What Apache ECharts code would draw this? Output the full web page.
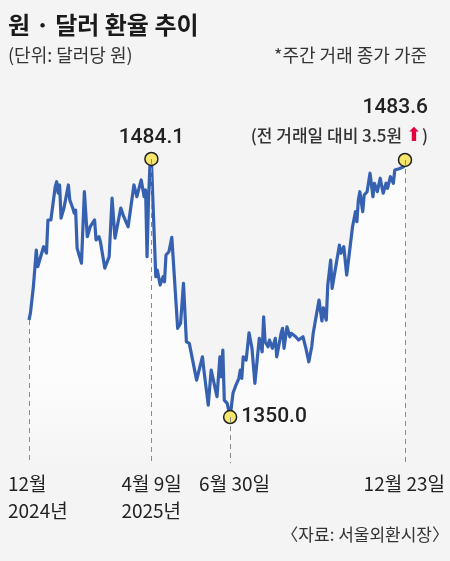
<!DOCTYPE html>
<html>
<head>
<meta charset="utf-8">
<script src="https://cdn.jsdelivr.net/npm/echarts@6/dist/echarts.min.js"></script>
<style>
  html, body { margin: 0; padding: 0; background: #f4f4f4; }
  #chart { width: 450px; height: 561px; }
</style>
</head>
<body>
<div id="chart"></div>
<script>
// trading-day index counted from 2 Dec 2024, closing rate (won per dollar)
const tradeDay = [
  0, 1, 3, 5, 6, 8, 10, 12, 13, 15, 18, 19, 20, 21, 22, 24,
  27, 28, 30, 31, 32, 33, 34, 36, 38, 40, 42, 45, 46, 48, 49, 52,
  55, 57, 59, 63, 65, 66, 68, 72, 74, 77, 79, 80, 81, 82, 83, 84,
  85, 87, 88, 90, 92, 93, 94, 96, 98, 102, 104, 106, 108, 110,
  115, 119, 120, 123, 125, 127, 129, 131, 132, 133, 134, 136, 138,
  140, 142, 143, 144, 145, 146, 147, 149, 151, 153, 155, 158, 160, 161, 162, 164,
  165, 167, 169, 170, 173, 174, 175, 177, 179, 180, 183, 185, 188, 190, 192, 194,
  195, 196, 199, 201, 202, 204, 205, 207, 208, 213, 214, 216, 218, 222, 224, 225,
  226, 227, 229, 230, 232, 234, 236, 237, 239, 241, 243, 245, 246, 248, 250, 251,
  254, 257, 258
]
const usdKrw = [
  1400.4, 1404.1, 1417.7, 1436.8, 1428.1, 1433.3, 1438.5, 1435.2, 1452.4, 1452.4, 1469.7, 1472.3, 1466.4, 1470.6, 1453.4, 1458.6,
  1470.6, 1462.8, 1458.6, 1456.0, 1457.5, 1437.8, 1436.8, 1430.0, 1467.1, 1443.7, 1448.9, 1452.4, 1442.0, 1443.7, 1441.1, 1427.4,
  1433.3, 1463.8, 1443.0, 1458.6, 1454.1, 1453.4, 1448.9, 1470.6, 1464.5, 1473.2, 1464.5, 1468.0, 1433.3, 1462.8, 1481.0, 1484.1,
  1462.8, 1422.9, 1426.4, 1418.6, 1422.9, 1420.3, 1434.2, 1435.9, 1443.4, 1396.1, 1398.7, 1419.5, 1389.1, 1388.3,
  1369.2, 1381.3, 1374.4, 1356.2, 1374.4, 1367.5, 1360.6, 1381.3, 1370.9, 1384.8, 1358.8, 1357.1, 1350.0,
  1362.5, 1366.6, 1367.5, 1370.1, 1374.4, 1370.1, 1381.3, 1379.6, 1393.8, 1385.7, 1367.5, 1390.9, 1383.9, 1402.1, 1389.1, 1386.5,
  1390.0, 1385.7, 1390.9, 1381.3, 1393.5, 1396.1, 1385.7, 1396.9, 1391.7, 1393.5, 1391.7, 1390.0, 1391.7, 1385.7, 1378.7, 1386.5,
  1393.5, 1394.3, 1410.8, 1399.9, 1406.7, 1400.4, 1418.6, 1431.6, 1416.9, 1439.4, 1435.1, 1438.5, 1423.8, 1448.9, 1456.7, 1451.5,
  1462.8, 1467.1, 1456.7, 1465.4, 1467.1, 1476.7, 1464.5, 1471.5, 1467.1, 1474.1, 1466.3, 1471.5, 1468.9, 1474.9, 1471.5, 1478.4,
  1479.0, 1480.1, 1483.6
]

// dates shown under the chart
const keyDay = [0, 84, 138, 258]
const keyLabel = ['12월\n2024년', '4월 9일\n2025년', '6월 30일', '12월 23일']

// highlighted points: peak, low, latest
const markedDay = [84, 138, 258]
const lastNote = '(전 거래일 대비 3.5원 '

const KR = '"Noto Sans CJK KR", "Noto Sans", sans-serif'
const NUM = 'Roboto, "Noto Sans", sans-serif'

const seriesData = tradeDay.map((d, i) => [d, usdKrw[i]])
const valueAt = d => usdKrw[tradeDay.indexOf(d)]

const labelBox = [
  { width: 42, align: 'left' },
  { width: 60, align: 'left' },
  { width: 62, align: 'left' },
  { width: 80, align: 'right' }
]
const rich = {}
labelBox.forEach((b, i) => {
  rich['k' + i] = { width: b.width, align: b.align, fontSize: 19, lineHeight: 27, color: '#222', fontFamily: KR }
})

const pointLabels = [
  { position: 'top', distance: 3 },
  { position: 'right', distance: 4 },
  {
    position: 'top', distance: 3, align: 'right', offset: [23, 0],
    formatter: p => '{v|' + p.value[1].toFixed(1) + '}\n{s|' + lastNote + '}{r|⬆}{s|)}',
    rich: {
      v: { fontSize: 21, lineHeight: 28, fontFamily: NUM, fontWeight: 500, color: '#222' },
      s: { fontSize: 17, lineHeight: 28, fontFamily: KR, color: '#333' },
      r: { fontSize: 19, lineHeight: 28, fontFamily: '"DejaVu Sans", sans-serif', color: '#e4003d' }
    }
  }
]

const chart = echarts.init(document.getElementById('chart'))

chart.setOption({
  backgroundColor: '#f4f4f4',
  animation: false,
  title: [
    {
      text: '원 · 달러 환율 추이', left: 3, top: 4,
      textStyle: { fontSize: 24, fontWeight: 'bold', lineHeight: 32, color: '#1a1a1a', fontFamily: KR }
    },
    {
      text: '(단위: 달러당 원)', left: 3, top: 38,
      textStyle: { fontSize: 18, fontWeight: 'normal', lineHeight: 24, color: '#333', fontFamily: KR }
    },
    {
      text: '*주간 거래 종가 가준', right: 18, top: 38,
      textStyle: { fontSize: 18, fontWeight: 'normal', lineHeight: 24, color: '#333', fontFamily: KR }
    },
    {
      text: '〈자료: 서울외환시장〉', right: -4, top: 518,
      textStyle: { fontSize: 17, fontWeight: 'normal', lineHeight: 24, color: '#333', fontFamily: KR }
    }
  ],
  grid: { left: 29, right: 45, top: 128.4, bottom: 97.8 },
  xAxis: {
    type: 'value',
    min: 0,
    max: 258,
    axisLine: { show: false },
    axisTick: { show: false },
    splitLine: { show: false },
    axisLabel: {
      customValues: keyDay,
      margin: 7,
      align: 'center',
      verticalAlign: 'top',
      formatter: v => {
        const i = keyDay.indexOf(v)
        if (i < 0) return ''
        return keyLabel[i].split('\n').map(l => '{k' + i + '|' + l + '}').join('\n')
      },
      rich: rich
    }
  },
  yAxis: {
    type: 'value',
    min: 1326,
    max: 1500,
    show: false,
    splitLine: { show: false }
  },
  series: [
    {
      // dashed guides from the marked points down to the dates
      type: 'line',
      data: [],
      z: 1,
      silent: true,
      markLine: {
        silent: true,
        symbol: 'none',
        label: { show: false },
        lineStyle: { color: '#8a8a8a', width: 1, type: [5, 4] },
        data: keyDay.map(d => [{ coord: [d, valueAt(d)] }, { coord: [d, 1326] }])
      }
    },
    {
      type: 'line',
      data: seriesData,
      z: 2,
      symbol: 'none',
      lineStyle: { color: '#3561b0', width: 3.2, join: 'round' },
      areaStyle: {
        origin: 'start',
        color: new echarts.graphic.LinearGradient(0, 0, 0, 1, [
          { offset: 0, color: '#ffffff' },
          { offset: 0.75, color: '#ffffff' },
          { offset: 1, color: 'rgba(255,255,255,0.1)' }
        ])
      }
    },
    {
      type: 'scatter',
      z: 3,
      symbolSize: 13,
      itemStyle: { color: '#f6e66c', borderColor: '#222', borderWidth: 1.5, opacity: 1 },
      label: {
        show: true,
        fontSize: 21,
        fontFamily: NUM,
        fontWeight: 500,
        color: '#222',
        formatter: p => p.value[1].toFixed(1)
      },
      data: markedDay.map((d, i) => ({ value: [d, valueAt(d)], label: pointLabels[i] }))
    }
  ]
})
</script>
</body>
</html>
